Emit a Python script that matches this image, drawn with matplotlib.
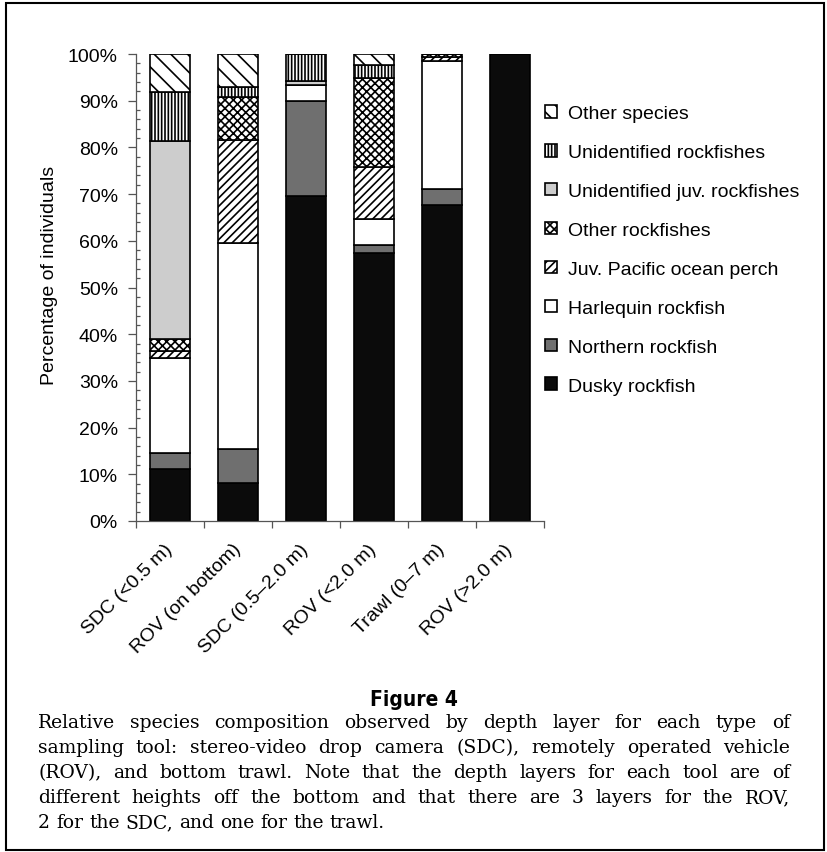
from matplotlib import pyplot as plt
from matplotlib.patches import Rectangle
from matplotlib.ticker import MultipleLocator, FixedLocator
import numpy as np

plt.rcParams['font.family'] = ['Liberation Sans', 'DejaVu Sans']
plt.rcParams['hatch.linewidth'] = 1.2

categories = ["SDC (<0.5 m)", "ROV (on bottom)", "SDC (0.5–2.0 m)",
              "ROV (<2.0 m)", "Trawl (0–7 m)", "ROV (>2.0 m)"]
species = ["Dusky rockfish", "Northern rockfish", "Harlequin rockfish",
           "Juv. Pacific ocean perch", "Other rockfishes",
           "Unidentified juv. rockfishes", "Unidentified rockfishes",
           "Other species"]

# percentage of individuals, one value per category
dusky = [11.1, 8.1, 69.7, 57.4, 67.6, 100.0]
northern = [3.4, 7.4, 20.2, 1.7, 3.5, 0.0]
harlequin = [20.4, 44.0, 3.4, 5.6, 27.5, 0.0]
juv_pop = [1.4, 22.0, 0.0, 11.1, 0.8, 0.0]
other_rock = [2.7, 9.3, 0.0, 19.1, 0.6, 0.0]
unid_juv = [42.4, 0.0, 0.9, 0.0, 0.0, 0.0]
unid_rock = [10.4, 2.1, 5.8, 2.7, 0.0, 0.0]
other_sp = [8.2, 7.1, 0.0, 2.4, 0.0, 0.0]

series = [dusky, northern, harlequin, juv_pop, other_rock, unid_juv, unid_rock, other_sp]
colors = ["#0b0b0b", "#6f6f6f", "white", "white", "white", "#cdcdcd", "white", "white"]
hatches = [None, None, None, "////", "xxxx", None, "|||||", "\\\\"]

caption_lines = [
    "Relative species composition observed by depth layer for each type of",
    "sampling tool: stereo-video drop camera (SDC), remotely operated vehicle",
    "(ROV), and bottom trawl. Note that the depth layers for each tool are of",
    "different heights off the bottom and that there are 3 layers for the ROV,",
    "2 for the SDC, and one for the trawl.",
]

W, H = 828, 853
FS = 14
fig = plt.figure(figsize=(W / 100, H / 100), dpi=100)
ax = fig.add_axes([136 / W, 1 - 522 / H, 408 / W, 467 / H])

x = np.arange(len(categories))
bottom = np.zeros(len(categories))
bars = []
for vals, name, c, h in zip(series, species, colors, hatches):
    b = ax.bar(x, vals, width=0.6, bottom=bottom, color=c, edgecolor="black",
               linewidth=1.2, hatch=h, label=name)
    bars.append(b)
    bottom += np.array(vals)

ax.set_xlim(-0.5, len(categories) - 0.5)
ax.set_ylim(0, 100)
ax.spines['top'].set_visible(False)
ax.spines['right'].set_visible(False)
for s in ['left', 'bottom']:
    ax.spines[s].set_color("#555555")
    ax.spines[s].set_linewidth(0.9)

ax.yaxis.set_major_locator(MultipleLocator(10))
ax.yaxis.set_minor_locator(MultipleLocator(2))
ax.set_yticklabels([f"{int(v)}%" for v in ax.get_yticks()])
ax.tick_params(axis='y', which='major', direction='out', length=6, width=0.9,
               color="#555555", labelsize=FS, pad=7)
ax.tick_params(axis='y', which='minor', direction='in', length=3, width=0.9, color="#555555")

ax.set_xticks(x)
ax.set_xticklabels(categories, rotation=45, ha='right', va='center',
                   rotation_mode='anchor', fontsize=FS)
ax.xaxis.set_minor_locator(FixedLocator(np.arange(-0.5, len(categories), 1.0)))
ax.tick_params(axis='x', which='major', length=0, pad=18)
ax.tick_params(axis='x', which='minor', direction='out', length=5, width=0.9, color="#555555")

fig.text(50 / W, 1 - 275 / H, "Percentage of individuals", rotation=90,
         ha='center', va='center', fontsize=FS)

handles = bars[::-1]
fig.legend(handles, species[::-1], loc='upper left', bbox_to_anchor=(545 / W, 1 - 106 / H),
           frameon=False, fontsize=FS, handlelength=0.62, handleheight=0.62,
           handletextpad=0.55, labelspacing=1.12, borderpad=0, borderaxespad=0)

fig.text(414 / W, 1 - 700 / H, "Figure 4", ha='center', va='center', fontsize=15,
         fontweight='bold', family='DejaVu Sans', fontstretch='condensed')

# justified caption
renderer = fig.canvas.get_renderer()
x0, x1 = 38, 790
cap_fs = 13.5
space_w = fig.text(0, 0, "a a", fontsize=cap_fs, family='DejaVu Serif').get_window_extent(renderer).width \
    - fig.text(0, 0, "aa", fontsize=cap_fs, family='DejaVu Serif').get_window_extent(renderer).width
for t in fig.texts[-2:]:
    t.remove()
for i, line in enumerate(caption_lines):
    yb = 1 - (728 + 25 * i) / H
    words = line.split()
    items = [fig.text(0, yb, w, va='baseline', fontsize=cap_fs, family='DejaVu Serif')
             for w in words]
    widths = [t.get_window_extent(renderer).width for t in items]
    if i < len(caption_lines) - 1:
        gap = (x1 - x0 - sum(widths)) / (len(words) - 1)
    else:
        gap = space_w
    pos = x0
    for t, w in zip(items, widths):
        t.set_x(pos / W)
        pos += w + gap

fig.patches.append(Rectangle((6 / W, 2 / H), (W - 10) / W, (H - 6) / H, transform=fig.transFigure,
                             fill=False, edgecolor="black", linewidth=1.5))

fig.savefig("out.png", dpi=100)
